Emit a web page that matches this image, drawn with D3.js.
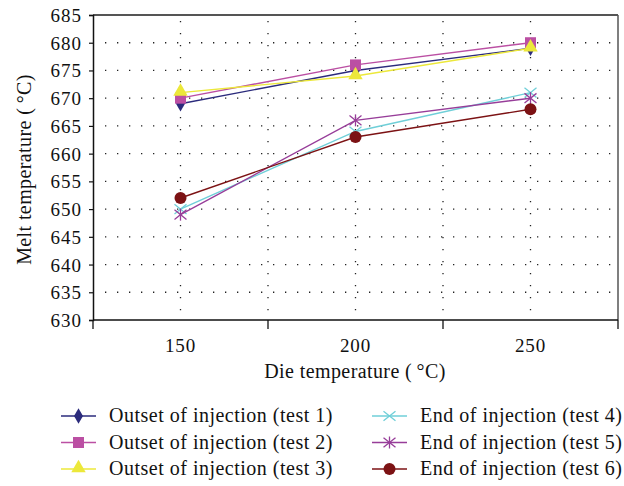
<!DOCTYPE html>
<html>
<head>
<meta charset="utf-8">
<script src="https://cdn.jsdelivr.net/npm/d3@7"></script>
<style>
  body { margin: 0; background: #fff; }
  svg, svg text { font-family: "Liberation Serif", "DejaVu Serif", serif !important; fill: #111; }
</style>
</head>
<body>
<svg id="chart" width="624" height="486"></svg>
<script>
// die temperature categories
const categories = ["150", "200", "250"];
const yTicks = [630, 635, 640, 645, 650, 655, 660, 665, 670, 675, 680, 685];

const test1 = [669, 675, 679];
const test2 = [670, 676, 680];
const test3 = [671, 674, 679];
const test4 = [650, 664, 671];
const test5 = [649, 666, 670];
const test6 = [652, 663, 668];

const seriesNames = [
  "Outset of injection (test 1)", "Outset of injection (test 2)", "Outset of injection (test 3)",
  "End of injection (test 4)", "End of injection (test 5)", "End of injection (test 6)"
];
const seriesColors = ["#2b2b7c", "#bb4fa3", "#ece83a", "#6fcfd8", "#973d99", "#7c1214"];
const seriesMarkers = ["diamond", "square", "triangle", "cross", "asterisk", "circle"];
const seriesValues = [test1, test2, test3, test4, test5, test6];

const svg = d3.select("#chart");
const m = { left: 93, right: 618, top: 15, bottom: 320 };

const x = d3.scaleBand().domain(categories).range([m.left, m.right]).padding(0);
const y = d3.scaleLinear().domain([630, 685]).range([m.bottom, m.top]);
const cx = d => x(d) + x.bandwidth() / 2;

// dotted grid
const grid = svg.append("g").attr("stroke", "#222").attr("stroke-width", 1.3)
  .attr("stroke-dasharray", "1.3,10.7");
yTicks.slice(1, -1).forEach(v => {
  grid.append("line").attr("x1", m.left + 12).attr("x2", m.right)
    .attr("y1", y(v)).attr("y2", y(v));
});
const vLines = categories.map(cx).concat(categories.slice(1).map(c => x(c)));
vLines.forEach(px => {
  grid.append("line").attr("x1", px).attr("x2", px)
    .attr("y1", m.top + 6).attr("y2", m.bottom);
});

// frame
svg.append("line").attr("x1", m.left).attr("x2", m.right).attr("y1", m.top).attr("y2", m.top)
  .attr("stroke", "#555").attr("stroke-width", 1.8);
svg.append("line").attr("x1", m.right).attr("x2", m.right).attr("y1", m.top).attr("y2", m.bottom)
  .attr("stroke", "#555").attr("stroke-width", 1.5);

// y axis
const yAxis = svg.append("g").attr("transform", `translate(${m.left},0)`)
  .call(d3.axisLeft(y).tickValues(yTicks).tickSize(4).tickPadding(7).tickFormat(d3.format("d")));
yAxis.attr("font-family", null).attr("font-size", null);
yAxis.select(".domain").attr("stroke", "#111").attr("stroke-width", 1.5);
yAxis.selectAll(".tick line").attr("stroke", "#111").attr("stroke-width", 1.2);
yAxis.selectAll(".tick text").attr("font-size", 19).attr("letter-spacing", 1).attr("dy", "0.34em");

// x axis (category, ticks between categories)
const xAxis = svg.append("g").attr("transform", `translate(0,${m.bottom})`);
xAxis.append("line").attr("x1", m.left).attr("x2", m.right).attr("stroke", "#111").attr("stroke-width", 1.5);
[m.left].concat(categories.map(c => x(c) + x.bandwidth())).forEach(px => {
  xAxis.append("line").attr("x1", px).attr("x2", px).attr("y1", 0).attr("y2", 9)
    .attr("stroke", "#111").attr("stroke-width", 1.3);
});
categories.forEach(c => {
  xAxis.append("text").attr("x", cx(c)).attr("y", 32).attr("text-anchor", "middle")
    .attr("font-size", 19).attr("letter-spacing", 0.8).text(c);
});

// titles
svg.append("text").attr("x", 355).attr("y", 378).attr("text-anchor", "middle")
  .attr("font-size", 20).attr("letter-spacing", 0.4).text("Die temperature (\u2009°C)");
svg.append("text").attr("transform", `translate(31,${(m.top + m.bottom) / 2 + 2}) rotate(-90)`)
  .attr("text-anchor", "middle").attr("font-size", 20).attr("letter-spacing", 0.4)
  .text("Melt temperature (\u2009°C)");

function drawMarker(g, type, color, px, py) {
  if (type === "diamond") {
    g.append("path").attr("d", d3.symbol(d3.symbolDiamond, 70)()).attr("transform", `translate(${px},${py})`).attr("fill", color);
  } else if (type === "square") {
    g.append("rect").attr("x", px - 5.5).attr("y", py - 5.5).attr("width", 11).attr("height", 11).attr("fill", color);
  } else if (type === "triangle") {
    g.append("path").attr("d", d3.symbol(d3.symbolTriangle, 90)()).attr("transform", `translate(${px},${py - 1})`).attr("fill", color);
  } else if (type === "circle") {
    g.append("circle").attr("cx", px).attr("cy", py).attr("r", 6).attr("fill", color);
  } else {
    const r = 6;
    const s = g.append("g").attr("stroke", color).attr("stroke-width", 1.3);
    s.append("line").attr("x1", px - r).attr("x2", px + r).attr("y1", py - r * 0.8).attr("y2", py + r * 0.8);
    s.append("line").attr("x1", px - r).attr("x2", px + r).attr("y1", py + r * 0.8).attr("y2", py - r * 0.8);
    if (type === "asterisk") {
      s.append("line").attr("x1", px).attr("x2", px).attr("y1", py - r).attr("y2", py + r);
    }
  }
}

// series
const line = d3.line().x((d, i) => cx(categories[i])).y(d => y(d));
seriesValues.forEach((vals, k) => {
  const g = svg.append("g");
  g.append("path").datum(vals).attr("d", line).attr("fill", "none")
    .attr("stroke", seriesColors[k]).attr("stroke-width", 1.4);
  vals.forEach((v, i) => drawMarker(g, seriesMarkers[k], seriesColors[k], cx(categories[i]), y(v)));
});

// legend
const legend = svg.append("g");
seriesNames.forEach((name, k) => {
  const col = k < 3 ? 0 : 1;
  const row = k % 3;
  const lx = col === 0 ? 61 : 372;
  const ly = 416 + row * 26.5;
  const g = legend.append("g");
  g.append("line").attr("x1", lx).attr("x2", lx + 35).attr("y1", ly).attr("y2", ly)
    .attr("stroke", seriesColors[k]).attr("stroke-width", 1.4);
  drawMarker(g, seriesMarkers[k], seriesColors[k], lx + 17.5, ly);
  g.append("text").attr("x", lx + 48).attr("y", ly + 6).attr("font-size", 20)
    .attr("letter-spacing", 0.5).text(name);
});
</script>
</body>
</html>
